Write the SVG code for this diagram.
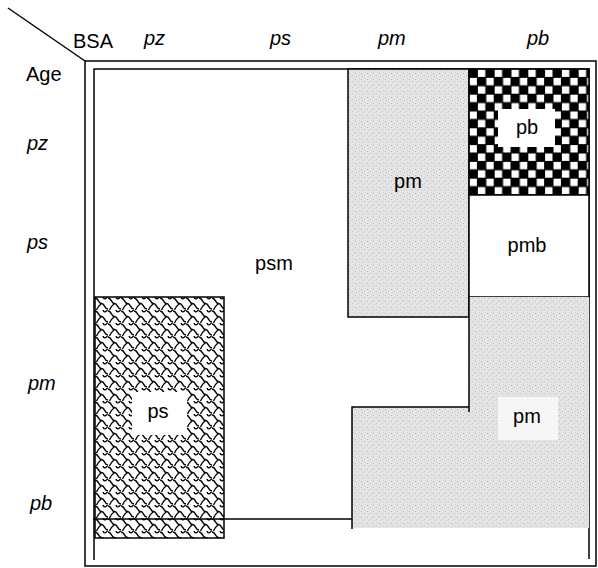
<svg xmlns="http://www.w3.org/2000/svg" width="598" height="568" viewBox="0 0 598 568">
<style>
.t{font-family:"Liberation Sans",Arial,sans-serif;font-size:20px;fill:#000}
.i{font-style:italic}
.m{text-anchor:middle}
.ln{fill:none;stroke:#000;stroke-width:1.5}
.bx{stroke:#000;stroke-width:1.5}
.sc{fill:none;stroke:#000;stroke-width:1.4}
</style>
<defs>
<pattern id="gray" x="0" y="0" width="6" height="6" patternUnits="userSpaceOnUse">
<rect width="6" height="6" fill="#e4e4e4"/>
<rect x="1" y="1" width="1" height="1" fill="#b8b8b8"/>
<rect x="4" y="3" width="1" height="1" fill="#c4c4c4"/>
<rect x="2" y="4" width="1" height="1" fill="#cccccc"/>
<rect x="5" y="0" width="1" height="1" fill="#d0d0d0"/>
</pattern>
<pattern id="check" x="469" y="69" width="16.8" height="16.8" patternUnits="userSpaceOnUse">
<rect width="16.8" height="16.8" fill="#000"/>
<rect x="8.9" y="0.5" width="7.4" height="7.4" fill="#fff"/>
<rect x="0.5" y="8.9" width="7.4" height="7.4" fill="#fff"/>
</pattern>
<pattern id="scale" x="95" y="297" width="13" height="13" patternUnits="userSpaceOnUse">
<rect width="13" height="13" fill="#fff"/>
<path class="sc" d="M0,1 C4,1 3,6.5 6.5,6.5 C10,6.5 9,12 13,12"/>
<path class="sc" d="M6.5,6.5 C4,8.5 2.5,10 1.5,13"/>
<path class="sc" d="M13,-0.5 C11,2 9,3 8,0"/>
</pattern>
</defs>

<g id="frame">
<line class="ln" x1="8" y1="8" x2="85" y2="61"/>
<path class="ln" d="M85,61 H596 V566 H85 Z"/>
<path class="ln" d="M94,560 V69 H589 V559"/>
</g>

<g id="headers">
<text class="t" x="73" y="48">BSA</text>
<text class="t" x="26" y="81">Age</text>
<text class="t i" x="144" y="45">pz</text>
<text class="t i" x="270" y="45">ps</text>
<text class="t i" x="378" y="45">pm</text>
<text class="t i" x="527" y="45">pb</text>
<text class="t i" x="27" y="150">pz</text>
<text class="t i" x="27" y="249">ps</text>
<text class="t i" x="28" y="390">pm</text>
<text class="t i" x="30" y="510">pb</text>
</g>

<g id="node-psm">
<text class="t m" x="274" y="270">psm</text>
</g>

<g id="node-pm-top">
<rect class="bx" x="348" y="69" width="121" height="248" fill="url(#gray)"/>
<text class="t m" x="408" y="188">pm</text>
</g>

<g id="node-pb">
<rect class="bx" x="469" y="69" width="120" height="126" fill="url(#check)"/>
<rect x="498" y="109" width="57" height="38" fill="#fff"/>
<text class="t m" x="527" y="134">pb</text>
</g>

<g id="node-pmb">
<rect class="bx" x="469" y="195" width="120" height="102" fill="#fff"/>
<text class="t m" x="527" y="252">pmb</text>
</g>

<g id="node-pm-bottom">
<path d="M352,407 H469 V297 H589 V528 H352 Z" fill="url(#gray)"/>
<rect x="498" y="397" width="60" height="43" fill="#f6f6f6"/>
<text class="t m" x="527" y="423">pm</text>
</g>

<g id="node-ps">
<rect class="bx" x="95" y="297" width="129" height="241" fill="url(#scale)"/>
<rect x="132" y="392" width="55" height="43" fill="#fff"/>
<text class="t m" x="158" y="418">ps</text>
</g>

<g id="connectors">
<path class="ln" d="M469,297 V412"/>
<path class="ln" d="M352,529 V407 H469"/>
<path class="ln" d="M93,519 H352"/>
</g>
</svg>
